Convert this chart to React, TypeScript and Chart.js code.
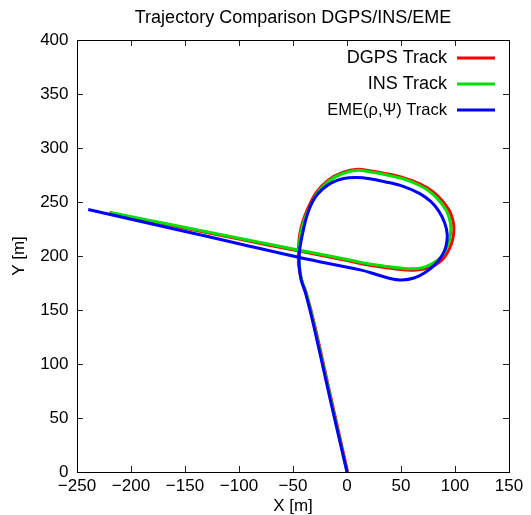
import React, { useEffect, useRef } from 'react';
import { Chart, registerables } from 'chart.js';

Chart.register(...registerables);

const TITLE = 'Trajectory Comparison DGPS/INS/EME';
const X_LABEL = 'X [m]';
const Y_LABEL = 'Y [m]';
const seriesLabels = ['DGPS Track', 'INS Track', 'EME(\u03C1,\u03A8) Track'];
const seriesColors = ['#ff0000', '#00e000', '#0000ff'];
const xTicks = [-250, -200, -150, -100, -50, 0, 50, 100, 150];
const yTicks = [0, 50, 100, 150, 200, 250, 300, 350, 400];

const dgpsX = [0.6, -14.5, -29.5, -37.8, -42.2, -44.8, -44.9, -44.2, -42.3, -39.3, -35.8, -28.7, -17.4, -4, 10, 21, 35, 52, 67, 79, 88, 94.5, 97.8, 99, 98, 95, 89.5, 81.5, 71, 61, 50, 35, 21, 0, -44, -100, -160, -220];
const dgpsY = [0, 67, 134, 166, 178, 192, 205, 217, 227, 236.5, 245, 258.5, 270.2, 277.4, 280.3, 279, 276.5, 272.5, 267, 260, 251.5, 242.5, 234, 226, 216, 207, 198, 191.5, 188, 186.9, 187.4, 189.4, 191.5, 195.8, 204.5, 215.6, 227.8, 240];

const insX = [0, -15, -30, -38, -42, -44.3, -44.3, -43.5, -41.5, -38.5, -35, -28, -17, -4, 10, 21, 35, 52, 67, 78, 86, 92, 95, 96.2, 95.2, 92.5, 87.5, 80, 71, 61, 50, 35, 21, 0, -44, -100, -160, -219];
const insY = [0, 67, 134, 166, 178, 192, 205, 217, 227, 236, 244, 257.5, 269.2, 276.4, 279.3, 278, 275.5, 271.5, 265.5, 258.5, 250.5, 242, 234, 226, 216, 208, 199.5, 193.5, 189.5, 188.2, 188.8, 190.6, 192.6, 196.8, 205.4, 216.5, 228.5, 240.3];

const emeX = [0, -15.5, -30.5, -38.5, -42.5, -44.3, -43.9, -42.3, -40, -37.5, -34, -29, -22, -14, -3, 8.7, 21, 35, 52, 67, 77.5, 85, 90.3, 92.8, 91.5, 87.5, 81, 72, 62, 51, 40, 28, 13.3, -44, -100, -160, -239.6];
const emeY = [0, 67, 134, 166, 178, 192, 205, 215, 226, 236, 246, 255, 262.5, 268, 271.8, 272.6, 271.6, 268.8, 264.5, 258, 250.5, 241.5, 231, 220, 208.5, 199.5, 191.5, 184.5, 179.6, 177.8, 179.2, 182.6, 186.9, 198.6, 211.4, 225, 243];

const FONT = '"Liberation Sans", Arial, Helvetica, sans-serif';

const toPoints = (xs: number[], ys: number[]) => xs.map((x, i) => ({ x, y: ys[i] }));
const fmt = (v: number) => (v < 0 ? '\u2212' + Math.abs(v) : String(v));

const legendPlugin = {
  id: 'gnuLegend',
  afterDraw(chart: any) {
    const { ctx, chartArea } = chart;
    ctx.save();
    chart.data.datasets.forEach((ds: any, i: number) => {
      const y = chartArea.top + 18 + i * 26;
      ctx.font = `${i === 2 ? 16.5 : 18}px ${FONT}`;
      ctx.fillStyle = '#000';
      ctx.textAlign = 'right';
      ctx.textBaseline = 'middle';
      ctx.fillText(ds.label, chartArea.right - 62, y);
      ctx.strokeStyle = ds.borderColor;
      ctx.lineWidth = 3;
      ctx.beginPath();
      ctx.moveTo(chartArea.right - 52, y);
      ctx.lineTo(chartArea.right - 14, y);
      ctx.stroke();
    });
    ctx.restore();
  },
};

export default function App() {
  const ref = useRef<HTMLCanvasElement | null>(null);

  useEffect(() => {
    if (!ref.current) return;
    const mkTicks = (arr: number[]) => (s: any) => {
      s.ticks = arr.map((v) => ({ value: v }));
    };
    const gridOpts = { drawOnChartArea: false, drawTicks: true, tickLength: -6, color: '#222', lineWidth: 1 };
    const borderOpts = { display: true, color: '#000', width: 1 };
    const series = [
      [dgpsX, dgpsY],
      [insX, insY],
      [emeX, emeY],
    ];
    const chart = new Chart(ref.current, {
      type: 'scatter',
      data: {
        datasets: series.map(([xs, ys], i) => ({
          label: seriesLabels[i],
          data: toPoints(xs, ys),
          showLine: true,
          borderColor: seriesColors[i],
          backgroundColor: seriesColors[i],
          borderWidth: 3,
          pointRadius: 0,
          tension: 0.35,
          order: 3 - i,
        })),
      },
      options: {
        responsive: false,
        animation: false,
        events: [],
        layout: { padding: { left: 0, right: 22, top: 0, bottom: 0 } },
        plugins: {
          legend: { display: false },
          tooltip: { enabled: false },
          title: {
            display: true,
            text: TITLE,
            color: '#000',
            fullSize: false,
            font: { family: FONT, size: 18, weight: 'normal', lineHeight: 1.2 },
            padding: { top: 7.5, bottom: 10.9 },
          },
        },
        scales: {
          x: {
            type: 'linear',
            position: 'bottom',
            min: -250,
            max: 150,
            afterBuildTicks: mkTicks(xTicks),
            afterFit: (s: any) => { s.height = 43; },
            ticks: {
              callback: (v: any) => fmt(Number(v)),
              font: { family: FONT, size: 17, lineHeight: 33 / 17 },
              color: '#000',
              padding: 4,
              maxRotation: 0,
              autoSkip: false,
            },
            grid: gridOpts,
            border: borderOpts,
            title: { display: true, text: X_LABEL, color: '#000', font: { family: FONT, size: 17, lineHeight: 1 }, padding: { top: 0, bottom: 0 } },
          },
          x2: {
            type: 'linear',
            position: 'top',
            min: -250,
            max: 150,
            afterBuildTicks: mkTicks(xTicks),
            afterFit: (s: any) => { s.height = 0; },
            ticks: { display: false },
            grid: gridOpts,
            border: borderOpts,
          },
          y: {
            type: 'linear',
            position: 'left',
            min: 0,
            max: 400,
            afterBuildTicks: mkTicks(yTicks),
            afterFit: (s: any) => { s.width = 77; },
            ticks: { callback: (v: any) => fmt(Number(v)), font: { family: FONT, size: 17 }, color: '#000', padding: 14.5, autoSkip: false },
            grid: gridOpts,
            border: borderOpts,
            title: { display: true, text: Y_LABEL, color: '#000', font: { family: FONT, size: 17, lineHeight: 1 }, padding: { top: 10.5, bottom: 0 } },
          },
          y2: {
            type: 'linear',
            position: 'right',
            min: 0,
            max: 400,
            afterBuildTicks: mkTicks(yTicks),
            afterFit: (s: any) => { s.width = 0; },
            ticks: { display: false },
            grid: gridOpts,
            border: borderOpts,
          },
        },
      } as any,
      plugins: [legendPlugin],
    });
    return () => chart.destroy();
  }, []);

  return (
    <div style={{ position: 'absolute', left: 0, top: 0, width: 531, height: 515, background: '#fff' }}>
      <canvas ref={ref} width={531} height={515} style={{ width: 531, height: 515 }} />
    </div>
  );
}
